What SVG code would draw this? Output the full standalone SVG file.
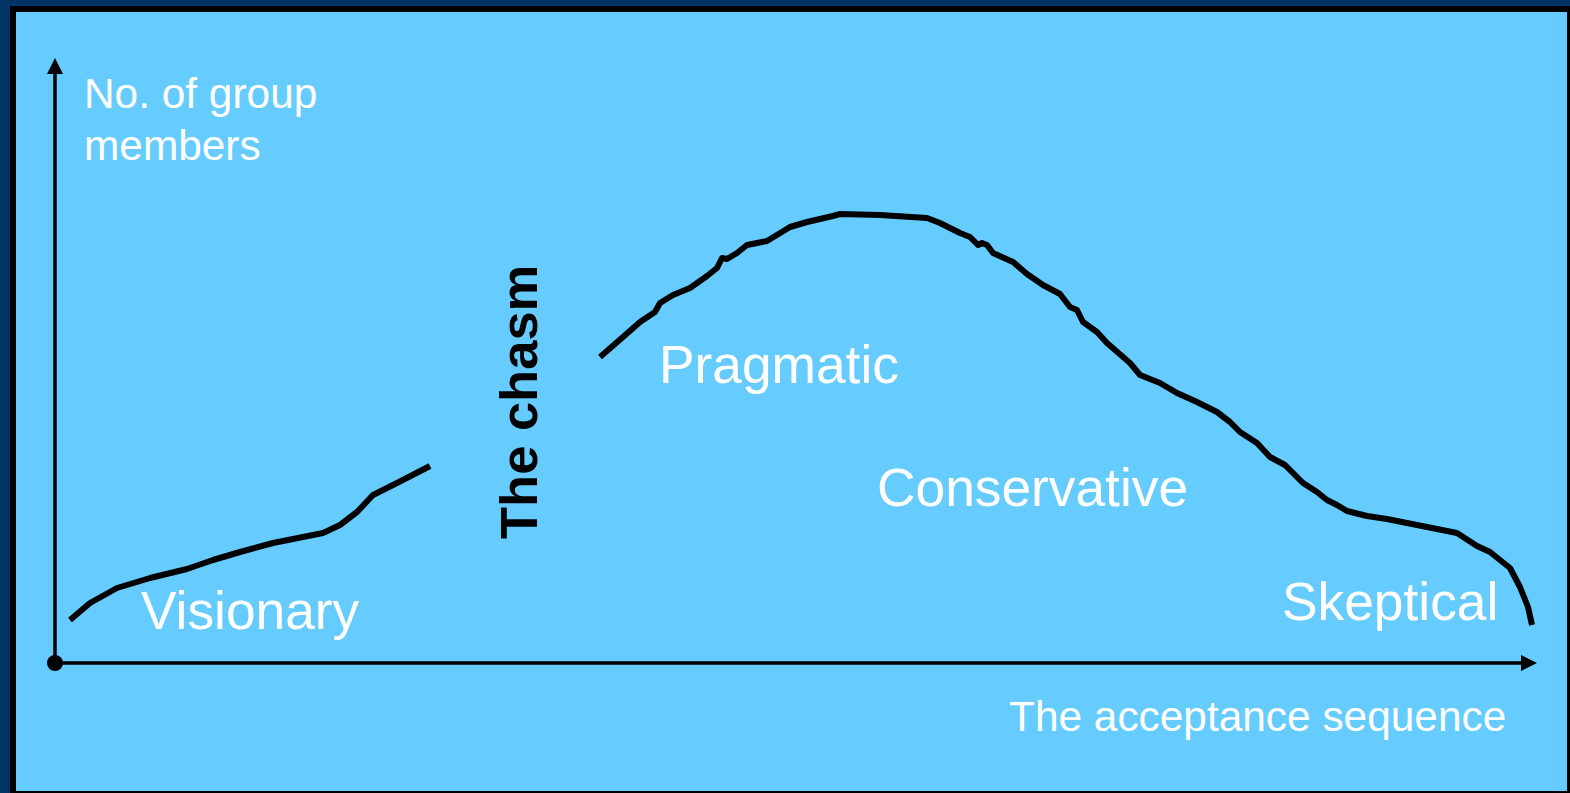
<svg xmlns="http://www.w3.org/2000/svg" width="1570" height="793" viewBox="0 0 1570 793">
<style>
.lbl{font-family:"Liberation Sans",Arial,sans-serif;fill:#ffffff;font-size:53.3px}
.ax{font-family:"Liberation Sans",Arial,sans-serif;fill:#ffffff;font-size:42.4px}
.curve{fill:none;stroke:#000;stroke-width:6;stroke-linejoin:round;stroke-linecap:butt}
.axis{stroke:#000;stroke-width:3.5;fill:none}
</style>
<rect x="0" y="0" width="1570" height="793" fill="#003366"/>
<rect x="10" y="6" width="1560" height="787" fill="#000"/>
<rect x="16" y="12" width="1551" height="779" fill="#66CCFF"/>
<g id="connectors">
<line class="axis" x1="55" y1="663" x2="55" y2="70"/>
<polygon points="55,58 63,74 47,74" fill="#000"/>
<line class="axis" x1="55" y1="663" x2="1525" y2="663"/>
<polygon points="1537,663 1521,655 1521,671" fill="#000"/>
<circle cx="55" cy="663" r="8" fill="#000"/>
<polyline class="curve" points="70,620 90,603 117,588 150,578 187,569 213,560 240,552 273,543 323,533 340,525 357,512 373,495 397,483 430,466"/>
<polyline class="curve" points="600,357 623,337 640,322 655,312 660,303 673,295 690,288 707,276 717,268 722,258 727,259 737,253 747,245 767,241 790,227 807,222 833,216 840,214 880,215 927,218 940,223 960,233 970,237 978,245 982,243 987,245 993,253 1013,262 1027,274 1043,285 1060,294 1070,307 1077,310 1083,322 1097,332 1107,343 1130,363 1140,375 1160,383 1177,393 1197,402 1217,412 1230,422 1240,432 1257,443 1270,457 1285,465 1303,483 1317,492 1327,500 1337,505 1347,511 1367,516 1387,519 1417,525 1457,533 1477,546 1490,552 1510,568 1520,587 1528,607 1532,625"/>
</g>
<g id="y-label"><text class="ax" x="84" y="108">No. of group</text><text class="ax" x="84" y="160">members</text></g>
<g id="x-label"><text class="ax" x="1009" y="731">The acceptance sequence</text></g>
<g id="visionary"><text class="lbl" x="141" y="629">Visionary</text></g>
<g id="chasm"><text font-family="Liberation Sans,Arial,sans-serif" font-weight="bold" font-size="52.5" fill="#000" transform="translate(537,539) rotate(-90)">The chasm</text></g>
<g id="pragmatic"><text class="lbl" x="659" y="383">Pragmatic</text></g>
<g id="conservative"><text class="lbl" x="877" y="506">Conservative</text></g>
<g id="skeptical"><text class="lbl" x="1282" y="620">Skeptical</text></g>
</svg>
